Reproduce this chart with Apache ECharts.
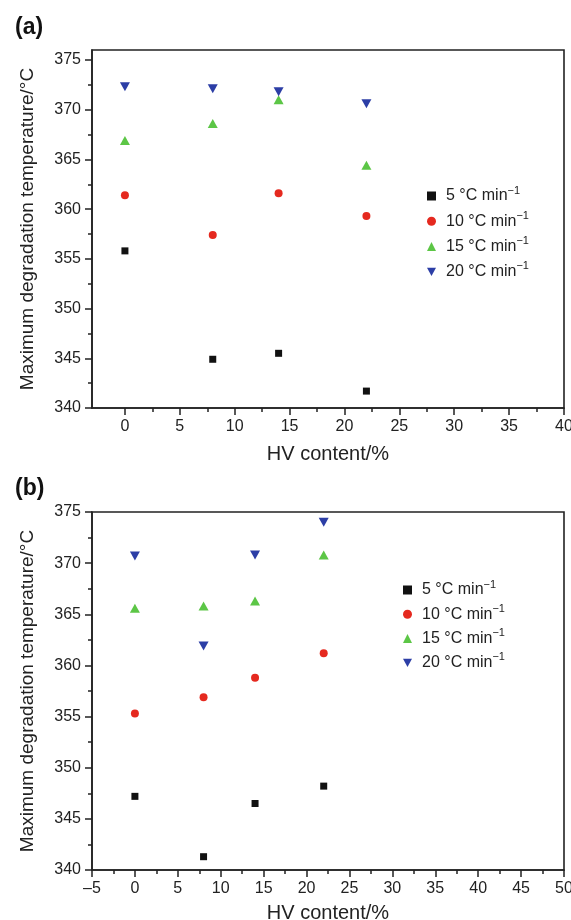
<!DOCTYPE html>
<html>
<head>
<meta charset="utf-8">
<script src="https://cdn.jsdelivr.net/npm/echarts@6/dist/echarts.min.js"></script>
<style>
  html, body { margin: 0; padding: 0; background: #fff; }
  #chart { width: 571px; height: 920px; }
</style>
</head>
<body>
<div id="chart"></div>
<script>
// HV content of the copolymers, %
const hvContent = [0, 8, 14, 22];
// heating rates, °C/min
const heatingRates = [5, 10, 15, 20];

// panel (a) – maximum degradation temperature, °C
const tmaxA5 = [355.8, 344.9, 345.5, 341.7];
const tmaxA10 = [361.4, 357.4, 361.6, 359.3];
const tmaxA15 = [366.9, 368.6, 371.0, 364.4];
const tmaxA20 = [372.3, 372.1, 371.8, 370.6];

// panel (b)
const tmaxB5 = [347.2, 341.3, 346.5, 348.2];
const tmaxB10 = [355.3, 356.9, 358.8, 361.2];
const tmaxB15 = [365.6, 365.8, 366.3, 370.8];
const tmaxB20 = [370.7, 361.9, 370.8, 374.0];

// tick labels
const xTicksA = [0, 5, 10, 15, 20, 25, 30, 35, 40];
const xTicksB = [-5, 0, 5, 10, 15, 20, 25, 30, 35, 40, 45, 50];
const yTicks = [340, 345, 350, 355, 360, 365, 370, 375];

const FONT = "'Liberation Sans', Arial, Helvetica, sans-serif";
const INK = "#222";
const colors = ["#111111", "#e5291f", "#5cc646", "#2c3ea6"];
const symbols = ["rect", "circle", "triangle", "path://M0,0 L10,0 L5,9 Z"];
const symbolSizes = [7, 8, [10, 9], [10, 9]];

const rateName = (r) => r + " \u00b0C min";
const minorOf = (ticks) => ticks.slice(1).map((t, i) => (t + ticks[i]) / 2);
const fmt = (v) => (v < 0 ? "\u2013" + Math.abs(v) : String(v));

function axisPair(gridIndex, position, min, max, ticks, name, nameGap, nameSize) {
  const major = {
    type: "value",
    gridIndex: gridIndex,
    position: position,
    min: min,
    max: max,
    name: name,
    nameLocation: "middle",
    nameGap: nameGap,
    nameTextStyle: { fontFamily: FONT, fontSize: nameSize, color: INK },
    axisLine: { show: true, onZero: false, lineStyle: { color: INK, width: 1.6 } },
    axisTick: { show: true, length: 7, customValues: ticks, lineStyle: { color: INK, width: 1.5 } },
    axisLabel: { customValues: ticks, margin: 11, fontFamily: FONT, fontSize: 16, color: INK, formatter: fmt },
    splitLine: { show: false },
  };
  // second axis only carries the short minor ticks
  const minor = {
    type: "value",
    gridIndex: gridIndex,
    position: position,
    min: min,
    max: max,
    axisLine: { show: false, onZero: false },
    axisTick: { show: true, length: 4, customValues: minorOf(ticks), lineStyle: { color: INK, width: 1.5 } },
    axisLabel: { show: false },
    splitLine: { show: false },
  };
  return [major, minor];
}

function panelSeries(sets, axisIndex) {
  return sets.map((vals, k) => ({
    name: rateName(heatingRates[k]),
    type: "scatter",
    xAxisIndex: axisIndex,
    yAxisIndex: axisIndex,
    symbol: symbols[k],
    symbolSize: symbolSizes[k],
    itemStyle: { color: colors[k], opacity: 1 },
    data: hvContent.map((x, i) => [x, vals[i]]),
  }));
}

function legendAt(left, top, gap) {
  return {
    orient: "vertical",
    left: left,
    top: top,
    padding: 0,
    itemGap: gap,
    itemWidth: 9,
    itemHeight: 9,
    data: heatingRates.map(rateName),
    formatter: (n) => "{t|" + n + "}{s|\u22121}",
    textStyle: {
      padding: [0, 0, 0, 5],
      rich: {
        t: { fontFamily: FONT, fontSize: 16, color: INK, lineHeight: 22 },
        s: { fontFamily: FONT, fontSize: 11, color: INK, lineHeight: 11, verticalAlign: "top" },
      },
    },
  };
}

const yLabel = "Maximum degradation temperature/\u00b0C";
const xLabel = "HV content/%";

const xA = axisPair(0, "bottom", -3, 40, xTicksA, xLabel, 36, 20);
const xB = axisPair(1, "bottom", -5, 50, xTicksB, xLabel, 33, 20);
const yA = axisPair(0, "left", 340, 376, yTicks, yLabel, 55, 19);
const yB = axisPair(1, "left", 340, 375, yTicks, yLabel, 55, 19);

const option = {
  animation: false,
  backgroundColor: "#fff",
  title: [
    { text: "(a)", left: 10, top: 11, textStyle: { fontFamily: FONT, fontSize: 23, fontWeight: "bold", color: "#111" } },
    { text: "(b)", left: 10, top: 472, textStyle: { fontFamily: FONT, fontSize: 23, fontWeight: "bold", color: "#111" } },
  ],
  grid: [
    { left: 92, top: 50, width: 472, height: 358, outerBoundsMode: "none", show: true, borderColor: INK, borderWidth: 1.6 },
    { left: 92, top: 512, width: 472, height: 358, outerBoundsMode: "none", show: true, borderColor: INK, borderWidth: 1.6 },
  ],
  legend: [legendAt(427, 185, 6.3), legendAt(403, 579, 5.3)],
  xAxis: [xA[0], xA[1], xB[0], xB[1]],
  yAxis: [yA[0], yA[1], yB[0], yB[1]],
  series: panelSeries([tmaxA5, tmaxA10, tmaxA15, tmaxA20], 0).concat(
    panelSeries([tmaxB5, tmaxB10, tmaxB15, tmaxB20], 2)
  ),
};

const chart = echarts.init(document.getElementById("chart"));
chart.setOption(option);
</script>
</body>
</html>
